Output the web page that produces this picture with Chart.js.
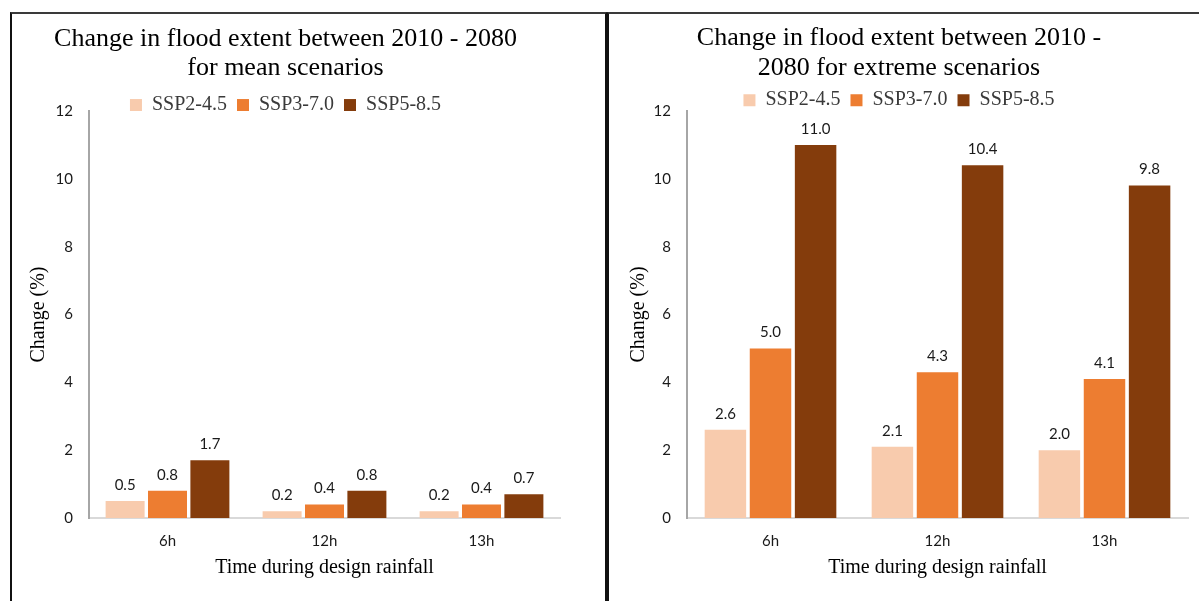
<!DOCTYPE html>
<html>
<head>
<meta charset="utf-8">
<script src="https://cdn.jsdelivr.net/npm/chart.js@4.4.1/dist/chart.umd.min.js"></script>
<style>
  html, body { margin: 0; padding: 0; background: #ffffff; }
  body { width: 1199px; height: 601px; position: relative; overflow: hidden; }
  .panel { position: absolute; box-sizing: border-box; }
  #panelLeft { left: 10px; top: 12px; width: 597px; height: 600px;
    border-left: 2px solid #111; border-right: 2px solid #111; border-top: 2px solid #3a3a3a; }
  #panelRight { left: 607px; top: 12px; width: 600px; height: 600px;
    border-left: 2px solid #111; border-top: 2px solid #3a3a3a; }
  canvas { position: absolute; }
  #chartMean { left: 11px; top: 13px; }
  #chartExtreme { left: 610px; top: 13px; }
</style>
</head>
<body>
<div class="panel" id="panelLeft"></div>
<div class="panel" id="panelRight"></div>
<canvas id="chartMean" width="594" height="588"></canvas>
<canvas id="chartExtreme" width="582" height="588"></canvas>
<script>
// Design-rainfall time steps and scenario names
const categories = ['6h', '12h', '13h'];
const scenarioNames = ['SSP2-4.5', 'SSP3-7.0', 'SSP5-8.5'];
const scenarioColors = ['#F8CBAD', '#ED7D31', '#843C0C'];

// Change in flood extent (%), mean scenarios
const meanSSP245 = [0.5, 0.2, 0.2];
const meanSSP370 = [0.8, 0.4, 0.4];
const meanSSP585 = [1.7, 0.8, 0.7];

// Change in flood extent (%), extreme scenarios
const extremeSSP245 = [2.6, 2.1, 2.0];
const extremeSSP370 = [5.0, 4.3, 4.1];
const extremeSSP585 = [11.0, 10.4, 9.8];

// Y-axis range and tick step
const yMin = 0;
const yMax = 12;
const yStep = 2;

const TICK_FONT = { family: 'Lato, "Open Sans", sans-serif', size: 15 };
const SERIF = '"Liberation Serif", "Times New Roman", serif';

// Writes each bar's value just above it
const valueLabels = {
  id: 'valueLabels',
  afterDatasetsDraw(chart) {
    const ctx = chart.ctx;
    ctx.save();
    ctx.font = '15px Lato, "Open Sans", sans-serif';
    ctx.fillStyle = '#1a1a1a';
    ctx.textAlign = 'center';
    ctx.textBaseline = 'middle';
    chart.data.datasets.forEach((ds, di) => {
      const meta = chart.getDatasetMeta(di);
      meta.data.forEach((bar, i) => {
        ctx.fillText(ds.data[i].toFixed(1), bar.x, bar.y - 16);
      });
    });
    ctx.restore();
  }
};

function buildChart(canvasId, titleLines, seriesList, opt) {
  const datasets = seriesList.map((values, k) => ({
    label: scenarioNames[k],
    data: values,
    backgroundColor: scenarioColors[k],
    borderWidth: 0,
    categoryPercentage: 0.81,
    barPercentage: 0.92
  }));
  return new Chart(document.getElementById(canvasId), {
    type: 'bar',
    data: { labels: categories, datasets },
    plugins: [valueLabels],
    options: {
      responsive: false,
      animation: false,
      devicePixelRatio: 1,
      layout: { padding: { left: 0, right: opt.padRight, top: 0, bottom: 0 } },
      plugins: {
        tooltip: { enabled: false },
        title: {
          display: true,
          text: titleLines,
          color: '#000000',
          font: { family: SERIF, size: 26, weight: 'normal', lineHeight: 1.12 },
          padding: { top: opt.titleTop, bottom: opt.titleBottom }
        },
        legend: {
          display: true,
          position: 'top',
          maxHeight: opt.legendHeight,
          labels: {
            color: '#3a3a3a',
            font: { family: SERIF, size: 20 },
            boxWidth: 12,
            boxHeight: 12,
            padding: 10
          }
        }
      },
      scales: {
        x: {
          grid: { display: false, drawTicks: false },
          border: { display: true, color: '#d9d9d9', width: 2 },
          ticks: { color: '#1a1a1a', font: TICK_FONT, padding: 14 },
          title: {
            display: true,
            text: 'Time during design rainfall',
            color: '#000000',
            font: { family: SERIF, size: 20 },
            padding: { top: 0, bottom: 21 }
          },
          afterFit(scale) { scale.height = 83; }
        },
        y: {
          min: yMin,
          max: yMax,
          grid: { display: false, drawTicks: false },
          border: { display: true, color: '#a6a6a6', width: 2 },
          ticks: { stepSize: yStep, color: '#1a1a1a', font: TICK_FONT, padding: 16 },
          title: {
            display: true,
            text: 'Change (%)',
            color: '#000000',
            font: { family: SERIF, size: 20 },
            padding: { top: opt.yTitlePad, bottom: 0 }
          },
          afterFit(scale) { scale.width = opt.yWidth; }
        }
      }
    }
  });
}

buildChart('chartMean',
  ['Change in flood extent between 2010 - 2080', 'for mean scenarios'],
  [meanSSP245, meanSSP370, meanSSP585],
  { padRight: 45, titleTop: 11.4, titleBottom: 2.4, legendHeight: 26, yWidth: 78, yTitlePad: 16 });

buildChart('chartExtreme',
  ['Change in flood extent between 2010 -', '2080 for extreme scenarios'],
  [extremeSSP245, extremeSSP370, extremeSSP585],
  { padRight: 4, titleTop: 11, titleBottom: -2, legendHeight: 30.76, yWidth: 77, yTitlePad: 17 });
</script>
</body>
</html>
